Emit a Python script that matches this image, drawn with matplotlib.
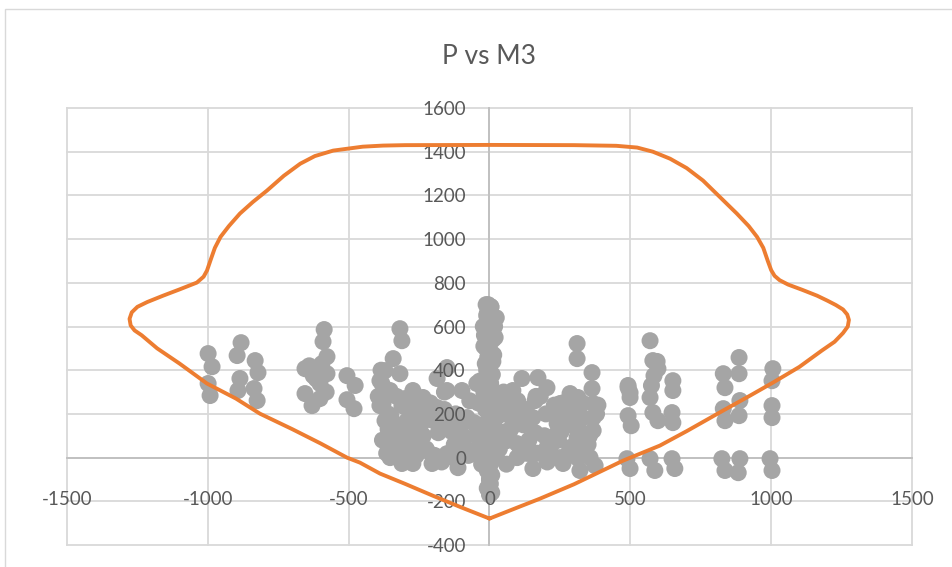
import matplotlib
matplotlib.use("Agg")
import matplotlib.pyplot as plt
from matplotlib.patches import Rectangle

# ---------------- data ----------------
title = "P vs M3"
x_ticks = [-1500, -1000, -500, 0, 500, 1000, 1500]
y_ticks = [-400, -200, 0, 200, 400, 600, 800, 1000, 1200, 1400, 1600]

# interaction diagram (M3, P)
curve_m = [0, 100, 179, 300, 400, 474, 550, 605, 700, 829, 920, 1006, 1100, 1180, 1225, 1255,
           1272, 1276, 1270, 1255, 1230, 1200, 1163, 1110, 1060, 1030, 1012, 1000, 988, 972,
           950, 920, 878, 820, 758, 700, 641, 580, 524, 450, 300, 0,
           -300, -378, -450, -555, -620, -672, -730, -790, -840, -886, -925, -955, -975, -990,
           -1003, -1015, -1039, -1100, -1159, -1215, -1250, -1270, -1278, -1274, -1260, -1235,
           -1180, -1100, -1003, -900, -815, -700, -600, -506, -460, -389, -300, -200, -100, 0]
curve_p = [-279, -228, -188, -122, -60, -14, 26, 55, 121, 215, 280, 343, 415, 490, 530, 570,
           600, 630, 655, 678, 698, 718, 741, 768, 792, 812, 832, 858, 900, 960,
           1010, 1060, 1117, 1190, 1268, 1325, 1368, 1400, 1419, 1427, 1430, 1431,
           1430, 1428, 1423, 1405, 1380, 1345, 1290, 1222, 1170, 1117, 1060, 1010, 960, 905,
           856, 828, 801, 770, 741, 712, 690, 665, 635, 605, 582, 560,
           500, 430, 339, 270, 201, 130, 65, 0, -23, -73, -120, -175, -228, -279]

# demand points (M3, P)
pts_m = [
    # cluster near -1000
    -999, -985, -999, -992,
    # cluster near -880 / -830
    -882, -896, -886, -893, -832, -822, -836, -825,
    # cluster near -600
    -587, -591, -577, -655, -626, -577, -602, -655, -630, -602, -640, -580, -595, -615,
    # cluster near -500
    -506, -477, -506, -481,
    # left-middle dense cluster
    -318, -311, -342, -371, -318, -382, -378, -371, -353, -353, -311, -272, -272, -311, -293,
    -247, -258, -204, -236, -151, -186, -151, -98, -186, -169, -182, -151, -112, -112, -87,
    -80, -353, -282, -272, -307, -222, -336, -389, -389, -360, -330, -300, -260, -240, -210,
    -290, -340, -250, -200, -130, -60, -50, -45, -40,
    -370, -360, -345, -330, -320, -300, -285, -270, -255, -240, -225, -380, -350, -325,
    -300, -275, -250, -230, -365, -335, -310, -285, -260, -235, -215, -195, -170, -140,
    -125, -100, -75, -160, -135, -110, -90, -70, -160, -120, -385, -395,
    # centre column
    -12, 5, -8, 10, 0, -10, 8, -5, 12, 0, -12, 6, -6, 12, 0, -10, 10, -4, 4, -12, 12, 0,
    -8, 8, -14, 14, 0, -6, 6, -10, 10, 0, -12, 12, 2, -4, 6, 0, -8, 8, 0, 3, -3, 0,
    -30, 30, -25, 28, -35, 35, -20, 25, -28, 22,
    -40, 40, -50, 45, -55, 50, -35, 38, -15, 15, -20, 20, -22, 24, -12, 12, -18, 18,
    -5, 5, -10, 10, 0, -8, 8, 0,
    # right-middle dense cluster
    83, 115, 73, 83, 73, 144, 154, 172, 204, 162, 154, 162, 204, 222, 261, 250, 240, 286,
    314, 261, 275, 314, 311, 286, 311, 321, 357, 375, 311, 311, 364, 364, 368, 368, 368, 332,
    240, 98, 98, 62, 55, 120, 45, 130, 180, 200, 230, 260, 300, 340, 350, 290, 220, 190, 60,
    70, 90, 110, 130, 100, 80, 60, 140, 170, 195, 215, 235, 255, 275, 295, 320, 340, 355,
    330, 300, 270, 245, 280, 310, 345, 380, 385, 250, 205, 165, 120,
    # cluster near 500
    492, 499, 492, 503, 488, 499, 499, 492,
    # cluster near 600
    570, 580, 598, 584, 651, 651, 570, 580, 598, 648, 651, 570, 587, 648, 658, 595, 575,
    # cluster near 850
    830, 836, 830, 836, 825, 836, 886, 886, 889, 886, 889, 883,
    # cluster near 1000
    1006, 1003, 1003, 1003, 996, 1003,
]
pts_p = [
    476, 416, 339, 284,
    526, 467, 362, 307, 444, 389, 316, 261,
    586, 531, 462, 407, 375, 384, 339, 293, 238, 270, 420, 300, 430, 360,
    375, 330, 265, 224,
    590, 535, 453, 398, 384, 339, 247, 169, 110, 0, -27, -27, 307, 238, 169,
    124, 64, -27, 275, 412, 362, 307, 307, 229, 156, 114, 18, -46, 46, 92,
    183, 307, 215, 78, 32, 32, 46, 352, 238, 200, 150, 80, 10, 200, 250,
    -10, 20, 230, 170, 0, 30, 150, 339, 250,
    300, 130, 60, 280, 120, 270, 50, 100, 200, 160, 40, 80, 190, 20, 100, 240, 150,
    220, 20, 60, 0, 160, 200, 100, 250, 10, -20, 180, 60, 150, 10, 220, 120, 40, 90, 260,
    300, 200, 400, 280,
    700, 690, 660, 640, 620, 600, 580, 560, 540, 520, 500, 480, 460, 440, 420, 400, 380, 360,
    340, 320, 300, 280, 260, 240, 220, 200, 180, 160, 140, 120, 100, 80, 60, 40, 20, 0,
    -20, -40, -60, -80, -100, -120, -150, -170,
    250, 220, 150, 120, 60, 40, 300, 0, -30, 180,
    100, 80, 20, 200, 160, 300, 350, 260, 430, 470, 510, 550, 600, 640, 10, -10, 560, 600,
    700, 690, 650, 630, -130, -140, -160, -100,
    307, 362, 247, 183, 124, 18, -50, 366, 320, 261, 183, 114, 46, 0, -27, 247, 156, 293,
    275, 229, 156, 156, 92, 46, 0, -59, 0, -37, 522, 453, 389, 316, 247, 183, 124, 183,
    110, 64, 0, 78, 200, 150, 280, 220, 280, 200, 240, 250, 200, 100, 60, 150, 60, 20, -30,
    230, 150, 40, 20, 260, 180, 120, 80, 20, 100, 60, 200, 120, 180, 230, 120, 60, 100,
    250, 200, 160, 80, 20, 50, 80, 200, 240, 0, -20, 280, 210,
    330, 275, 192, 146, -5, -50, 297, 320,
    535, 444, 407, 375, 352, 307, 275, 206, 169, 206, 160, -5, -59, -5, -50, 440, 330,
    384, 320, 224, 169, -5, -59, 458, 384, 261, 192, -5, -69,
    407, 352, 238, 183, -5, -59,
]

# ---------------- figure ----------------
W, H = 952, 567
fig = plt.figure(figsize=(W / 100, H / 100), dpi=100)
fig.patch.set_facecolor("white")

# chart border
fig.add_artist(Rectangle((5 / W, -0.1), 2.0, 1 - 9 / H + 0.1, transform=fig.transFigure,
                         facecolor="none", edgecolor="#d9d9d9", lw=1.0))

ax = fig.add_axes([67 / W, 1 - 545 / H, (912 - 67) / W, (545 - 108) / H])
ax.set_xlim(-1500, 1500)
ax.set_ylim(-400, 1600)
ax.set_axisbelow(False)

grid_c = "#d9d9d9"
for xv in x_ticks:
    ax.axvline(xv, color=grid_c, lw=1.3, zorder=0.5, clip_on=False)
for yv in y_ticks:
    ax.axhline(yv, color=grid_c, lw=1.3, zorder=0.5, clip_on=False)

for s in ["top", "right"]:
    ax.spines[s].set_visible(False)
ax.spines["left"].set_position(("data", 0))
ax.spines["bottom"].set_position(("data", 0))
for s in ["left", "bottom"]:
    ax.spines[s].set_color("#bfbfbf")
    ax.spines[s].set_linewidth(1.3)
    ax.spines[s].set_zorder(0.6)

ax.set_xticks(x_ticks)
ax.set_yticks(y_ticks)
ax.set_xticklabels([str(v) for v in x_ticks])
ax.set_yticklabels([str(v) for v in y_ticks])
ax.tick_params(axis="both", length=0, labelsize=13.5, labelcolor="#595959")
ax.tick_params(axis="x", pad=24)
ax.tick_params(axis="y", pad=17)
for lab in ax.get_xticklabels() + ax.get_yticklabels():
    lab.set_fontfamily("Lato")

ax.scatter(pts_m, pts_p, s=150, color="#a5a5a5", edgecolors="none", zorder=1.2)
ax.plot(curve_m, curve_p, color="#ed7d31", lw=2.8, zorder=3, solid_joinstyle="round",
        solid_capstyle="round")

fig.text(489 / W, 1 - 57 / H, title, ha="center", va="center", fontsize=19,
         color="#595959", family="Lato", fontweight="normal")

fig.savefig("out.png", dpi=100)
